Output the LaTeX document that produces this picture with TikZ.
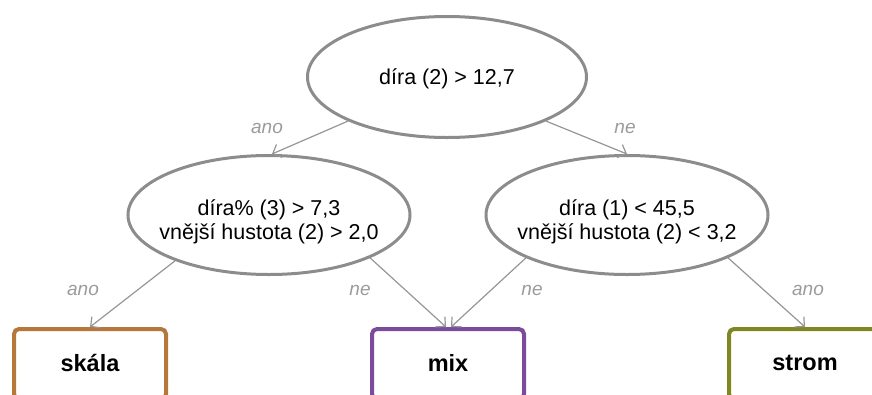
\documentclass[tikz,border=0pt]{standalone}
\usepackage{fontspec}
\setmainfont{Liberation Sans}
\usetikzlibrary{shapes.geometric,arrows.meta}
\definecolor{ellgray}{RGB}{140,140,140}
\definecolor{arrgray}{RGB}{150,150,150}
\definecolor{lblgray}{RGB}{155,155,155}
\definecolor{cskala}{RGB}{181,119,58}
\definecolor{cmix}{RGB}{125,75,155}
\definecolor{cstrom}{RGB}{128,134,32}
\tikzset{
  cond/.style={ellipse, draw=ellgray, line width=3pt, fill=white, inner sep=0pt},
  condtext/.style={align=center, inner sep=0pt, font=\fontsize{21.5}{24}\selectfont},
  leaf/.style={rectangle, rounded corners=5pt, line width=4pt, fill=white,
    minimum width=152pt, minimum height=70pt, anchor=north},
  leaftext/.style={font=\fontsize{23.5}{26}\selectfont\bfseries},
  conn/.style={draw=arrgray, line width=1.2pt, -{Straight Barb[length=7pt,width=14pt]}},
  lbl/.style={text=lblgray, font=\fontsize{19}{22}\selectfont\itshape}
}
\begin{document}
\begin{tikzpicture}[x=1pt,y=-1pt]
\useasboundingbox (0,0) rectangle (872,394);
\node[cond, minimum width=279pt, minimum height=121pt] (top) at (447,77) {};
\node[condtext] (ttop) at (447,79) {díra (2) > 12,7};
\node[cond, minimum width=282pt, minimum height=119pt] (left) at (269,215) {};
\node[condtext] (tleft) at (269,222) {díra\% (3) > 7,3\\vnější hustota (2) > 2,0};
\node[cond, minimum width=282pt, minimum height=119pt] (right) at (627,215) {};
\node[condtext] (tright) at (627,222) {díra (1) < 45,5\\vnější hustota (2) < 3,2};
\node[leaf, draw=cskala] (skala) at (90,327) {};
\node[leaftext] (tskala) at (90,363) {skála};
\node[leaf, draw=cmix] (mix) at (448,327) {};
\node[leaftext] (tmix) at (448,363) {mix};
\node[leaf, draw=cstrom] (strom) at (805,327) {};
\node[leaftext] (tstrom) at (805,363) {strom};
\draw[conn] (top.204) -- ([xshift=3pt]left.north);
\draw[conn] (top.-24.5) -- (right.north);
\draw[conn] (left.206) -- (skala.north);
\draw[conn] (left.-23.3) -- ([xshift=-2pt]mix.north);
\draw[conn] (right.203.5) -- ([xshift=3pt]mix.north);
\draw[conn] (right.-23.5) -- (strom.north);
\node[lbl] (l1) at (267,128) {ano};
\node[lbl] (l2) at (625,128) {ne};
\node[lbl] (l3) at (83,290) {ano};
\node[lbl] (l4) at (360,290) {ne};
\node[lbl] (l5) at (532,290) {ne};
\node[lbl] (l6) at (808,290) {ano};
\end{tikzpicture}
\end{document}
